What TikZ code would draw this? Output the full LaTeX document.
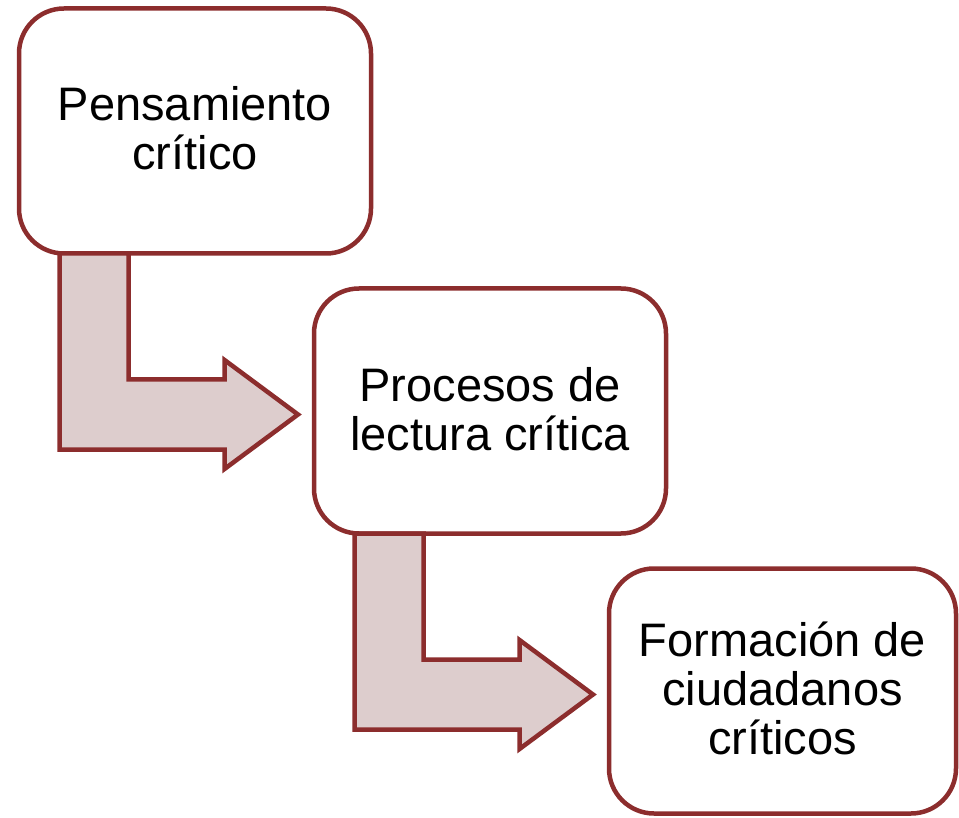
\documentclass[tikz,border=0pt]{standalone}
\usepackage{fontspec}
\setmainfont{Liberation Sans}
\definecolor{edgered}{HTML}{8C2D2D}
\definecolor{arrowfill}{HTML}{DDCDCD}
\tikzset{
  stagebox/.style={draw=edgered, line width=4.5pt, fill=white, rounded corners=45pt,
    minimum height=245pt, inner sep=0pt, outer sep=0pt, align=center,
    font=\fontsize{47}{49}\selectfont, text depth=5pt},
  twolines/.style={text height=83pt},
  threelines/.style={text height=132pt},
  bentarrow/.style={draw=edgered, line width=4.5pt, fill=arrowfill, line join=miter}
}
\begin{document}
\begin{tikzpicture}[x=1pt,y=-1pt]
\useasboundingbox (0,0) rectangle (959,818);
\node[stagebox, twolines, minimum width=352pt] (b1) at (195,131) {Pensamiento\\crítico};
\node[stagebox, twolines, minimum width=352pt] (b2) at (490,411) {Procesos de\\lectura crítica};
\node[stagebox, threelines, minimum width=347pt] (b3) at (782.5,691) {Formación de\\ciudadanos\\críticos};
\begin{scope}[shift={(b1.south west)}]
  \draw[bentarrow] (40.5,0) -- (40.5,196) -- (205.5,196) -- (205.5,215.5) -- (279,161)
    -- (205.5,106.5) -- (205.5,126) -- (109.5,126) -- (109.5,0) -- cycle;
\end{scope}
\begin{scope}[shift={(b2.south west)}]
  \draw[bentarrow] (40.5,0) -- (40.5,196) -- (205.5,196) -- (205.5,215.5) -- (279,161)
    -- (205.5,106.5) -- (205.5,126) -- (109.5,126) -- (109.5,0) -- cycle;
\end{scope}
\end{tikzpicture}
\end{document}
